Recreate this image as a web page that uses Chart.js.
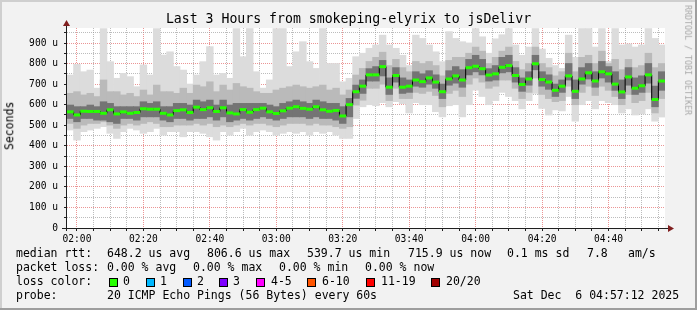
<!DOCTYPE html>
<html><head><meta charset="utf-8">
<script src="https://cdn.jsdelivr.net/npm/chart.js@4/dist/chart.umd.min.js"></script>
<style>
html,body{margin:0;padding:0;background:#f2f2f2;}
#wrap{position:relative;width:697px;height:310px;overflow:hidden;font-family:"DejaVu Sans Mono",monospace;color:#000;}
#c{position:absolute;left:0;top:0;}
.t{position:absolute;white-space:pre;line-height:1;}
.box{position:absolute;width:7px;height:7px;border:1px solid #000;}
</style></head>
<body><div id="wrap"><canvas id="c" width="697" height="310"></canvas></div>
<script>
// ---- data (microseconds), one sample every 2 minutes from 01:57 ----
const sampleMinutes = Array.from({length: 90}, (_, i) => 118 + 2 * i); // minutes after midnight (sample centres)

const medianRtt = [565,550,568,567,567,558,575,555,565,558,562,580,578,578,558,
  550,571,575,562,588,576,585,567,585,560,555,576,563,576,583,
  565,557,570,583,590,582,578,590,575,568,572,545,600,663,690,
  745,745,785,685,742,685,690,720,712,730,710,663,725,740,720,
  780,787,775,744,750,782,790,742,698,725,799,722,710,670,690,
  740,665,725,755,715,760,750,700,662,735,680,692,745,625,715];

const smokeOuterHigh = [744,796,760,768,680,970,809,728,752,736,687,793,744,970,841,
  857,785,768,700,744,809,882,744,752,728,970,833,970,760,680,
  720,970,970,785,857,906,809,776,970,800,800,711,728,833,850,
  874,890,938,890,874,840,790,938,922,890,857,809,955,922,906,
  900,970,930,850,920,940,970,890,840,880,970,870,825,790,776,
  938,830,970,970,880,970,810,970,890,895,880,890,970,922,890];
const smokeOuterLow = [477,428,469,477,485,493,461,436,469,485,477,461,469,485,452,
  469,469,444,469,469,461,444,428,469,452,469,485,452,469,477,
  469,452,461,469,461,469,452,469,461,469,452,436,436,533,590,
  600,595,610,590,615,605,560,610,600,600,566,541,595,600,541,
  600,671,640,600,620,660,640,620,580,620,655,582,550,575,570,
  640,520,600,620,580,620,610,600,560,580,550,555,580,520,540];
const smokeMidHigh = [655,663,647,655,639,720,663,663,647,655,639,671,647,695,663,
  663,655,680,655,695,687,711,663,695,671,703,687,680,663,655,
  655,671,680,687,695,687,680,687,695,671,680,647,671,744,776,
  810,830,855,790,820,780,760,810,800,810,790,740,815,830,830,
  850,880,860,800,830,860,880,810,770,800,880,800,780,740,760,
  850,760,830,840,800,860,800,820,770,820,780,790,850,780,800];
const smokeMidLow = [509,485,501,509,509,517,501,485,501,509,501,509,517,509,493,
  493,501,501,501,509,501,509,493,501,493,501,509,501,509,509,
  501,493,501,509,509,509,501,509,501,501,493,485,493,598,622,
  680,680,700,620,680,630,630,660,655,665,645,590,655,670,640,
  700,730,710,680,690,720,720,680,630,660,730,650,630,615,620,
  690,600,660,690,645,690,670,640,600,650,610,620,660,560,630];
const smokeInnerHigh = [598,590,590,598,590,614,606,590,590,590,590,614,606,614,590,
  590,606,606,598,622,614,622,598,622,598,606,606,606,606,606,
  598,590,606,614,622,614,606,622,614,606,606,590,630,695,720,
  775,785,815,730,780,730,720,760,750,765,745,700,765,785,770,
  820,840,820,775,790,830,840,780,730,760,840,760,745,700,720,
  800,720,780,800,760,810,785,760,720,780,730,740,800,690,760];
const smokeInnerLow = [533,517,533,533,525,525,517,509,533,533,525,541,541,541,525,
  517,533,533,525,533,533,541,525,541,517,525,533,525,533,541,
  533,525,533,541,541,541,533,541,533,533,525,509,541,631,655,
  715,715,740,650,710,655,660,690,685,700,680,630,695,705,685,
  745,760,745,715,720,755,760,710,665,695,770,690,675,640,660,
  720,630,700,725,685,730,710,670,630,695,650,660,705,590,670];

const yTickValues = [0,50,100,150,200,250,300,350,400,450,500,550,600,650,700,750,800,850,900,950];
const xTickValues = [120,125,130,135,140,145,150,155,160,165,170,175,180,185,190,195,200,205,210,215,220,225,230,235,240,245,250,255,260,265,270,275,280,285,290,295];

const lossLabels = ['0','1','2','3','4-5','6-10','11-19','20/20'];
const lossColors = ['#26ff00','#00b8ff','#0059ff','#7e00ff','#ff00ff','#ff5500','#ff0000','#a10000'];

// ---- chart ----
Chart.defaults.font.family = '"DejaVu Sans Mono", monospace';
Chart.defaults.color = '#000';

function band(lo, hi) { return sampleMinutes.map((t, i) => ({x: t, y: [lo[i], hi[i]]})); }
const barCommon = {type: 'bar', grouped: false, barPercentage: 1, categoryPercentage: 1, borderWidth: 0, inflateAmount: 0.4};

const frame = {
  id: 'frame',
  beforeDraw(chart) {
    const c = chart.ctx, a = chart.chartArea;
    c.save();
    c.fillStyle = '#f2f2f2'; c.fillRect(0, 0, 697, 310);
    c.fillStyle = '#cfcfcf'; c.fillRect(0, 0, 697, 2); c.fillRect(0, 0, 2, 310);
    c.fillStyle = '#9e9e9e'; c.fillRect(0, 308, 697, 2); c.fillRect(695, 0, 2, 310);
    c.fillStyle = '#ffffff'; c.fillRect(a.left, a.top, a.right - a.left, a.bottom - a.top);
    c.restore();
  },
  afterDraw(chart) {
    const c = chart.ctx, a = chart.chartArea;
    c.save();
    c.strokeStyle = '#1f1f1f'; c.lineWidth = 1;
    c.beginPath();
    c.moveTo(a.left - 0.5, a.bottom + 3); c.lineTo(a.left - 0.5, a.top - 4);
    c.moveTo(a.left - 5, a.bottom + 0.5); c.lineTo(a.right + 5, a.bottom + 0.5);
    c.stroke();
    c.fillStyle = '#801f1f';
    c.beginPath();
    c.moveTo(a.left - 0.5, a.top - 8); c.lineTo(a.left - 4, a.top - 2); c.lineTo(a.left + 3, a.top - 2); c.closePath(); c.fill();
    c.beginPath();
    c.moveTo(a.right + 9, a.bottom + 0.5); c.lineTo(a.right + 3, a.bottom - 3); c.lineTo(a.right + 3, a.bottom + 4); c.closePath(); c.fill();
    c.restore();
  }
};

const gridColor = (major) => (ctx) => (ctx.tick && ctx.tick.value % major === 0) ? 'rgba(222,79,79,0.6)' : 'rgba(143,143,143,0.6)';

new Chart(document.getElementById('c'), {
  type: 'bar',
  data: {
    datasets: [
      {type: 'line', data: sampleMinutes.map((t, i) => ({x: t, y: medianRtt[i]})), order: 0,
        stepped: 'middle', borderColor: '#000', borderWidth: 1, pointStyle: 'line', pointRadius: 3.4,
        pointBorderWidth: 3, pointBorderColor: '#26ff00', pointBackgroundColor: '#26ff00'},
      Object.assign({data: band(smokeInnerLow, smokeInnerHigh), backgroundColor: '#747474', order: 1}, barCommon),
      Object.assign({data: band(smokeMidLow, smokeMidHigh), backgroundColor: '#bababa', order: 2}, barCommon),
      Object.assign({data: band(smokeOuterLow, smokeOuterHigh), backgroundColor: '#dcdcdc', order: 3}, barCommon)
    ]
  },
  options: {
    responsive: false, animation: false, events: [],
    layout: {padding: {left: 0, top: 28, right: 32, bottom: 62}},
    plugins: {legend: {display: false}, title: {display: false}, tooltip: {enabled: false}},
    scales: {
      x: {
        type: 'linear', min: 117, max: 297, offset: false, z: 1,
        afterBuildTicks: s => { s.ticks = xTickValues.map(v => ({value: v})); },
        afterFit: s => { s.height = 20; },
        ticks: {autoSkip: false, maxRotation: 0, padding: 3, font: {size: 9.6},
          callback: v => v % 20 === 0 ? String(Math.floor(v / 60)).padStart(2, '0') + ':' + String(v % 60).padStart(2, '0') : ''},
        grid: {offset: false, color: gridColor(20), lineWidth: 1, tickLength: 3, tickColor: '#1f1f1f'},
        border: {display: false, dash: [1, 1]}
      },
      y: {
        type: 'linear', min: 0, max: 973, z: 1,
        afterBuildTicks: s => { s.ticks = yTickValues.map(v => ({value: v})); },
        afterFit: s => { s.width = 67; },
        ticks: {autoSkip: false, padding: 6, font: {size: 9.6},
          callback: v => v % 100 === 0 ? (v === 0 ? '0' : v + ' u') : ''},
        grid: {color: gridColor(100), lineWidth: 1, tickLength: 3, tickColor: '#1f1f1f'},
        border: {display: false, dash: [1, 1]}
      }
    }
  },
  plugins: [frame]
});

// ---- texts ----
const wrap = document.getElementById('wrap');
function txt(s, x, yc, size, extra) {
  const d = document.createElement('div');
  d.className = 't'; d.textContent = s;
  d.style.left = x + 'px'; d.style.top = (yc - size / 2) + 'px'; d.style.fontSize = size + 'px';
  if (extra) Object.assign(d.style, extra);
  wrap.appendChild(d); return d;
}
txt('Last 3 Hours from smokeping-elyrix to jsDelivr', 0, 19, 13.2, {width: '697px', textAlign: 'center', left: '0px'});
txt('Seconds', -20, 126, 11.5, {width: '60px', textAlign: 'center', transform: 'rotate(-90deg)'});
txt('RRDTOOL / TOBI OETIKER', 633, 60, 8.3, {width: '110px', textAlign: 'center', transform: 'rotate(90deg)', color: '#a8a8a8'});

const L = 11.5;
txt('median rtt:', 16, 254, L); txt('648.2 us avg', 107, 254, L); txt('806.6 us max', 207, 254, L);
txt('539.7 us min', 307, 254, L); txt('715.9 us now', 408, 254, L); txt('0.1 ms sd', 507, 254, L);
txt('7.8', 587, 254, L); txt('am/s', 628, 254, L);
txt('packet loss:', 16, 268, L); txt('0.00 % avg', 107, 268, L); txt('0.00 % max', 193, 268, L);
txt('0.00 % min', 279, 268, L); txt('0.00 % now', 365, 268, L);
txt('loss color:', 16, 282, L);
const boxX = [109, 146, 183, 219, 256, 307, 366, 431];
const labX = [123, 160, 197, 233, 271, 322, 381, 446];
lossLabels.forEach((lab, i) => {
  const b = document.createElement('div'); b.className = 'box';
  b.style.left = boxX[i] + 'px'; b.style.top = '278px'; b.style.background = lossColors[i];
  wrap.appendChild(b);
  txt(lab, labX[i], 282, L);
});
txt('probe:', 16, 296, L); txt('20 ICMP Echo Pings (56 Bytes) every 60s', 107, 296, L);
txt('Sat Dec  6 04:57:12 2025', 513, 296, L);
</script>
</body></html>
